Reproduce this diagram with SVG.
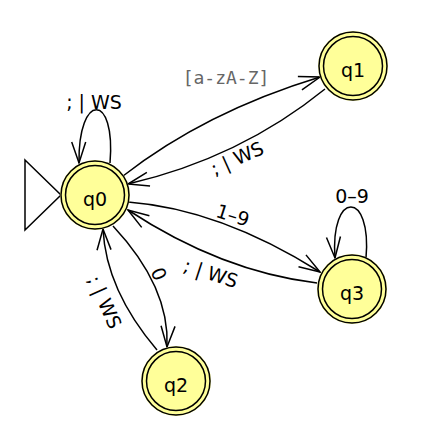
<svg xmlns="http://www.w3.org/2000/svg" width="421" height="443" viewBox="0 0 421 443">
<style>
.bg{fill:#ffffff}
.fill{fill:#ffff99;stroke:none}
.ring{fill:none;stroke:#000;stroke-width:1.5}
.nl{font-family:"DejaVu Sans",sans-serif;font-size:19px;fill:#000;text-anchor:middle}
.el{font-family:"DejaVu Sans",sans-serif;font-size:19px;fill:#000;text-anchor:middle}
.mono{font-family:"DejaVu Sans Mono",monospace;font-size:18px;fill:#666;text-anchor:middle}
.edge{fill:none;stroke:#000;stroke-width:1.5;marker-end:url(#arr)}
</style>
<defs>
<marker id="arr" markerUnits="userSpaceOnUse" orient="auto" refX="0" refY="0" markerWidth="30" markerHeight="30" overflow="visible">
<path d="M-21,-7 L0,0 L-21,7" fill="none" stroke="#000" stroke-width="1.5"/>
</marker>
</defs>
<rect class="bg" x="0" y="0" width="421" height="443"/>
<g id="connectors">
<path class="edge" d="M123,176 Q205,112 320,77"/>
<path class="edge" d="M325,89 Q240,158 128,184"/>
<path class="edge" d="M128,202 Q220,209 320,272"/>
<path class="edge" d="M317,283 Q221.5,271.5 128,210"/>
<path class="edge" d="M113,226 Q170,287 167,347"/>
<path class="edge" d="M157,350 Q106,290 103,229"/>
<path class="edge" d="M110,163 C116,92 78,92 79,163"/>
<path class="edge" d="M366,258 C372,190 330,190 335,258"/>
<text class="mono" x="226" y="84">[a-zA-Z]</text>
<text class="el" x="94" y="109">; | WS</text>
<text class="el" x="352" y="203">0–9</text>
<g transform="translate(237,158) rotate(-24)"><text class="el" x="0" y="7">; | WS</text></g>
<g transform="translate(233,215) rotate(18)"><text class="el" x="0" y="7">1–9</text></g>
<g transform="translate(211,273) rotate(18)"><text class="el" x="0" y="7">; | WS</text></g>
<g transform="translate(159,274) rotate(66)"><text class="el" x="0" y="7">0</text></g>
<g transform="translate(105,302) rotate(66)"><text class="el" x="0" y="7">; | WS</text></g>
</g>
<g id="start">
<polygon points="25,160 61,195 25,230" fill="#fff" stroke="#000" stroke-width="1.5"/>
</g>
<g id="q0">
<circle class="fill" cx="95" cy="195" r="35"/>
<circle class="ring" cx="95" cy="195" r="34"/>
<circle class="ring" cx="95" cy="195" r="29.5"/>
<text class="nl" x="95" y="206">q0</text>
</g>
<g id="q1">
<circle class="fill" cx="353" cy="66" r="35"/>
<circle class="ring" cx="353" cy="66" r="34"/>
<circle class="ring" cx="353" cy="66" r="29.5"/>
<text class="nl" x="353" y="77">q1</text>
</g>
<g id="q2">
<circle class="fill" cx="176" cy="381" r="35"/>
<circle class="ring" cx="176" cy="381" r="34"/>
<circle class="ring" cx="176" cy="381" r="29.5"/>
<text class="nl" x="176" y="392">q2</text>
</g>
<g id="q3">
<circle class="fill" cx="352" cy="289" r="35"/>
<circle class="ring" cx="352" cy="289" r="34"/>
<circle class="ring" cx="352" cy="289" r="29.5"/>
<text class="nl" x="352" y="300">q3</text>
</g>
</svg>
